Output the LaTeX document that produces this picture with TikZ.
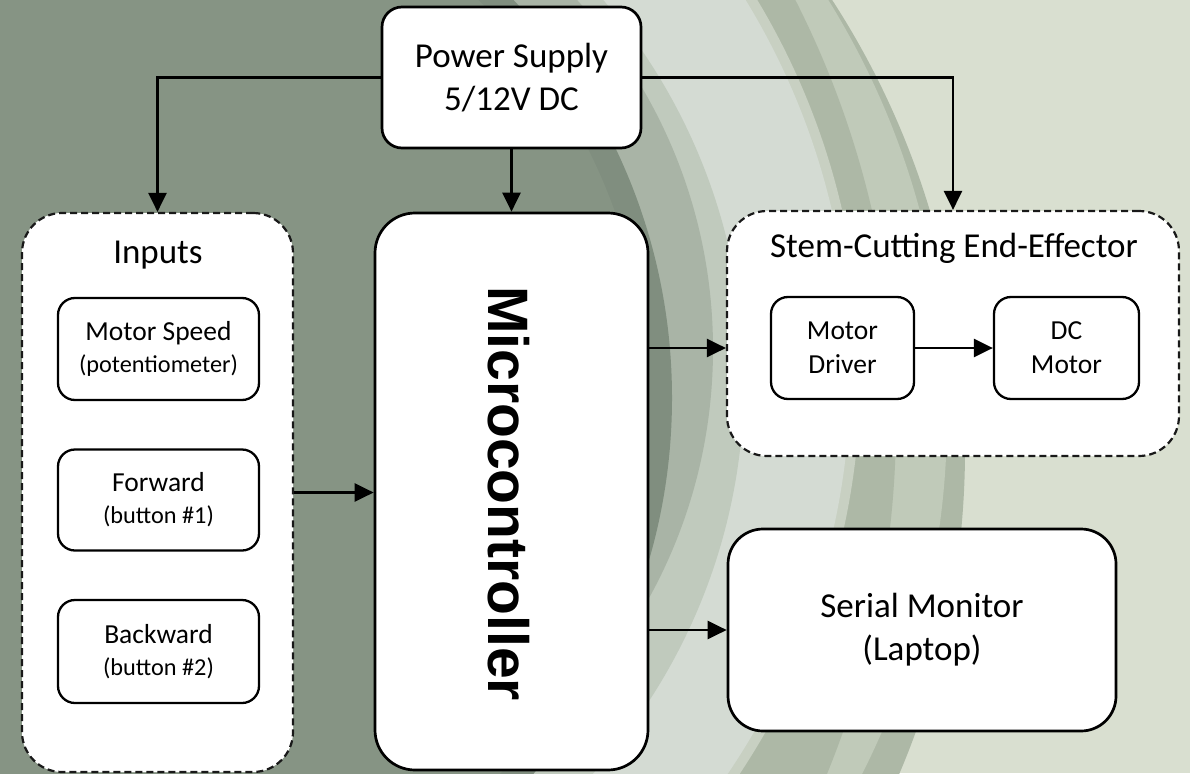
\documentclass[tikz,border=0pt]{standalone}
\usepackage{fontspec}
\setmainfont{Carlito}
\newfontfamily\mcfont{Liberation Sans}
\usetikzlibrary{arrows.meta}
\definecolor{bgl}{HTML}{D9DFD0}
\definecolor{bandA}{HTML}{ADB8A6}
\definecolor{bandB}{HTML}{C0CAB9}
\definecolor{bandD}{HTML}{C8D0C2}
\definecolor{bandE}{HTML}{D4DBD3}
\definecolor{bandF}{HTML}{C0CABD}
\definecolor{bandG}{HTML}{A9B4A6}
\definecolor{bandH}{HTML}{808E7F}
\definecolor{darkbg}{HTML}{869484}
\begin{document}
\begin{tikzpicture}[x=1pt,y=-1pt,
  solidbox/.style={draw=black, fill=white, line width=2.7pt, rounded corners=#1, inner sep=0pt, align=center},
  dashbox/.style={draw=black!90, fill=white, line width=2.2pt, dash pattern=on 7pt off 4pt, rounded corners=40pt, inner sep=0pt},
  smallbox/.style={draw=black, fill=white, line width=2.3pt, rounded corners=17pt, inner sep=0pt, align=center, font=\fontsize{27.5}{32}\selectfont},
  titletext/.style={font=\fontsize{35}{43}\selectfont, align=center, inner sep=0pt},
  arr/.style={draw=black, line width=2.4pt, -{Triangle[length=19pt,width=18pt]}},
]
\useasboundingbox (0,0) rectangle (1190,773);
% background
\begin{scope}
  \clip (0,0) rectangle (1190,773);
  \fill[bgl] (0,0) rectangle (1190,773);
  \fill[bandA] (137,450) circle[radius=828];
  \fill[bandB] (156,417) circle[radius=791];
  \fill[bandA] (-35,421.5) circle[radius=931];
  \fill[bandD] (135.5,373) circle[radius=725];
  \fill[bandE] (135.5,373) circle[radius=715];
  \fill[bandF] (158,381) circle[radius=586];
  \fill[bandG] (197,349) circle[radius=516];
  \fill[bandH] (93,398) circle[radius=579];
  \fill[darkbg] (93,398) circle[radius=554];
\end{scope}

% nodes
\node[solidbox=20pt, minimum width=259pt, minimum height=141pt, titletext] (ps) at (511.5,77.5) {Power Supply\\5/12V DC};

\node[dashbox, minimum width=271pt, minimum height=559pt] (inp) at (157.5,492.5) {};
\node[titletext] (inpt) at (158,255) {Inputs};
\node[smallbox, minimum width=201pt, minimum height=102pt] (ms) at (158.5,349) {Motor Speed\\{\fontsize{24.3}{32}\selectfont (potentiometer)}};
\node[smallbox, minimum width=201pt, minimum height=101pt] (fw) at (158.5,500) {Forward\\{\fontsize{24.3}{32}\selectfont (button \#1)}};
\node[smallbox, minimum width=201pt, minimum height=103pt] (bw) at (158.5,651.5) {Backward\\{\fontsize{24.3}{32}\selectfont (button \#2)}};

\node[solidbox=40pt, minimum width=273pt, minimum height=557pt] (mc) at (511.5,491.5) {};
\node[rotate=-90, inner sep=0pt, font=\mcfont\bfseries\fontsize{57}{60}\selectfont] (mct) at (509,493.5) {Microcontroller};

\node[dashbox, minimum width=452pt, minimum height=245pt] (sce) at (953,333.5) {};
\node[titletext] (scet) at (954,248) {Stem-Cutting End-Effector};
\node[smallbox, minimum width=143pt, minimum height=102pt, font=\fontsize{27.5}{34}\selectfont] (md) at (842.5,348) {Motor\\Driver};
\node[smallbox, minimum width=145pt, minimum height=102pt, font=\fontsize{27.5}{34}\selectfont] (dcm) at (1066.5,348) {DC\\Motor};

\node[solidbox=35pt, minimum width=388pt, minimum height=202pt, titletext] (ser) at (922,630) {Serial Monitor\\(Laptop)};

% connectors
\draw[arr] (ps.west) -| (inp.north);
\draw[arr] (ps.south) -- (mc.north);
\draw[arr] (ps.east) -| (sce.north);
\draw[arr] (inp.east) -- (mc.west |- inp.east);
\draw[arr] (mc.east |- md) -- (sce.west |- md);
\draw[arr] (md) -- (dcm);
\draw[arr] (mc.east |- ser) -- (ser.west);
\end{tikzpicture}
\end{document}
